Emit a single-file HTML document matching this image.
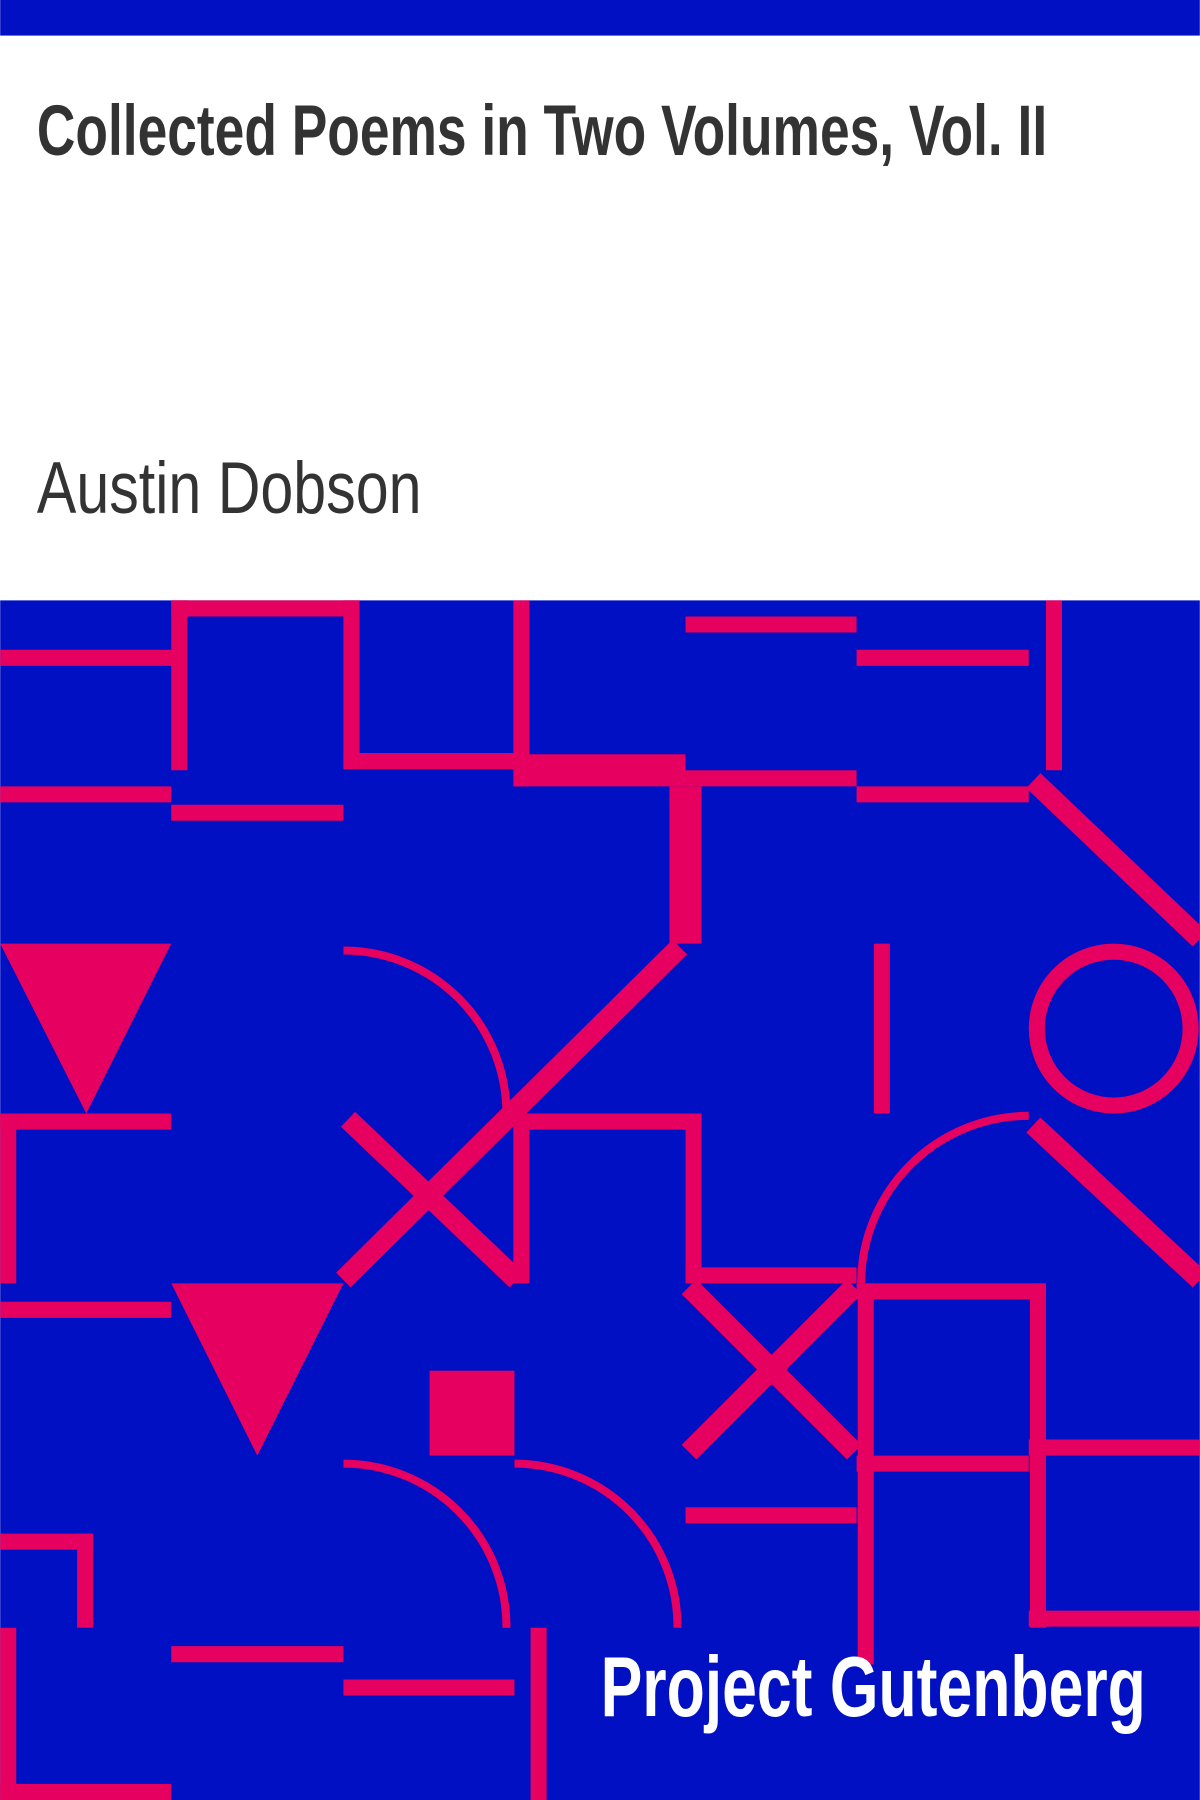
<!DOCTYPE html>
<html><head><meta charset="utf-8"><style>html,body{margin:0;padding:0;background:#fff}svg{display:block}</style></head>
<body>
<svg width="1200" height="1800" viewBox="0 0 1045 1568" xmlns="http://www.w3.org/2000/svg">
<rect x="0" y="0" width="1045" height="31" fill="#0010c2"/>
<text x="32" y="135" font-family="Liberation Sans, sans-serif" font-weight="bold" font-size="62" fill="#333" textLength="880" lengthAdjust="spacingAndGlyphs">Collected Poems in Two Volumes, Vol. II</text>
<text x="32" y="447" font-family="Liberation Sans, sans-serif" font-size="64" fill="#333" textLength="335" lengthAdjust="spacingAndGlyphs">Austin Dobson</text>
<rect x="0" y="523" width="1045" height="1045" fill="#0010c2"/>
<g fill="none" stroke="#e6005f" stroke-width="14">
<line x1="0" y1="573" x2="150" y2="573"/>
<line x1="156" y1="523" x2="156" y2="671"/>
<line x1="149" y1="530" x2="313" y2="530"/>
<line x1="306" y1="523" x2="306" y2="670"/>
<line x1="299" y1="663" x2="460" y2="663"/>
<line x1="454" y1="523" x2="454" y2="685"/>
<line x1="448" y1="671" x2="597" y2="671" stroke-width="28"/>
<line x1="597" y1="544" x2="746" y2="544"/>
<line x1="746" y1="573" x2="896" y2="573"/>
<line x1="918" y1="523" x2="918" y2="671"/>
<line x1="597" y1="678" x2="746" y2="678"/>
<line x1="0" y1="692" x2="149" y2="692"/>
<line x1="149" y1="708" x2="299" y2="708"/>
<line x1="746" y1="692" x2="896" y2="692"/>
<line x1="597" y1="685" x2="597" y2="822" stroke-width="28"/>
<line x1="592" y1="825" x2="299" y2="1115" stroke-width="18"/>
<line x1="303" y1="975" x2="450" y2="1115" stroke-width="18"/>
<line x1="454" y1="970" x2="454" y2="1118"/>
<line x1="448" y1="977" x2="611" y2="977"/>
<line x1="604" y1="970" x2="604" y2="1118"/>
<line x1="597" y1="1111" x2="746" y2="1111"/>
<line x1="900" y1="680" x2="1045" y2="818" stroke-width="18"/>
<path d="M299 828 A142 142 0 0 1 441 970" stroke-width="7"/>
<line x1="768" y1="822" x2="768" y2="970"/>
<circle cx="970" cy="896" r="67"/>
<line x1="0" y1="977" x2="149" y2="977"/>
<line x1="7" y1="970" x2="7" y2="1118"/>
<line x1="0" y1="1141" x2="149" y2="1141"/>
<path d="M750 1118 A146 146 0 0 1 896 972" stroke-width="7"/>
<line x1="900" y1="980" x2="1045" y2="1115" stroke-width="18"/>
<line x1="600" y1="1121" x2="744" y2="1265" stroke-width="18"/>
<line x1="744" y1="1121" x2="600" y2="1265" stroke-width="18"/>
<line x1="746" y1="1125" x2="911" y2="1125"/>
<line x1="754" y1="1118" x2="754" y2="1450"/>
<line x1="904" y1="1118" x2="904" y2="1418"/>
<line x1="746" y1="1275" x2="896" y2="1275"/>
<line x1="896" y1="1261" x2="1045" y2="1261"/>
<line x1="896" y1="1410" x2="1045" y2="1410"/>
<line x1="597" y1="1320" x2="746" y2="1320"/>
<path d="M299 1275 A142 142 0 0 1 441 1418" stroke-width="7"/>
<path d="M448 1275 A142 142 0 0 1 590 1418" stroke-width="7"/>
<line x1="0" y1="1343" x2="81" y2="1343"/>
<line x1="74" y1="1336" x2="74" y2="1418"/>
<line x1="7" y1="1418" x2="7" y2="1568"/>
<line x1="0" y1="1561" x2="149" y2="1561"/>
<line x1="149" y1="1441" x2="299" y2="1441"/>
<line x1="299" y1="1470" x2="448" y2="1470"/>
<line x1="469" y1="1418" x2="469" y2="1568"/>
</g>
<g fill="#e6005f">
<polygon points="0,822 149,822 75,970"/>
<polygon points="149,1118 299,1118 224,1268"/>
<rect x="374" y="1194" width="74" height="74"/>
</g>
<text x="523" y="1495" font-family="Liberation Sans, sans-serif" font-weight="bold" font-size="74" fill="#fff" textLength="475" lengthAdjust="spacingAndGlyphs">Project Gutenberg</text>
</svg>
</body></html>
